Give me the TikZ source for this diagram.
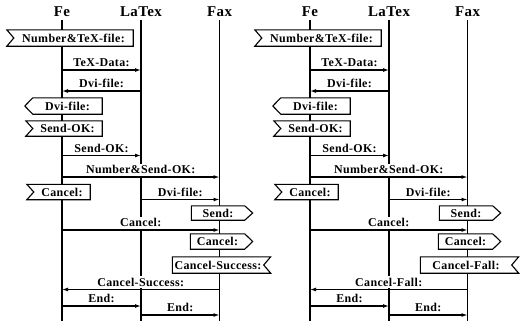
\documentclass[tikz,border=0pt]{standalone}
\usepackage{fontspec}
\setmainfont{Liberation Serif}[LetterSpace=3]
\usepackage{tikz}
\usetikzlibrary{arrows.meta,calc,positioning}

\begin{document}
\begin{tikzpicture}[x=1bp, y=-1bp, >={Latex[length=6bp,width=4bp]}, line join=miter,
    title/.style={font=\fontsize{15}{17}\selectfont\bfseries, inner sep=2bp},
    life/.style={line width=1.4bp},
    msg/.style={->, line width=1.1bp},
    msglbl/.style={font=\fontsize{12}{14}\selectfont\bfseries, above=0.8bp, fill=white,
      inner xsep=1bp, inner ysep=1.8bp, midway},
    sig/.style={font=\fontsize{12}{14}\selectfont\bfseries, fill=white, inner sep=0pt},
    frame/.style={line width=1.1bp}]
  \path[use as bounding box] (0,0) rectangle (524,323);

  \foreach \dx/\res in {62/Success, 310/Fall} {
  \begin{scope}[shift={(\dx,0)}]
    % instances and lifelines
    \node[title] (fe) at (0,12) {Fe};
    \node[title] (latex) at (79,12) {LaTex};
    \node[title] (fax) at (157.5,12) {Fax};
    \coordinate (bot) at (0,321);
    \foreach \p in {fe,latex,fax}
      \draw[life] ([yshift=-1bp]\p.south) -- (\p |- bot);

    % messages between instances
    \foreach \y/\a/\b/\txt in {70/fe/latex/{TeX-Data:}, 91/latex/fe/{Dvi-file:},
        155.5/fe/latex/{Send-OK:}, 177/fe/fax/{Number\&Send-OK:},
        199.5/latex/fax/{Dvi-file:}, 230/fe/fax/{Cancel:},
        289.5/fax/fe/{Cancel-\res:}, 306/fe/latex/{End:}, 315/latex/fax/{End:}}
      \draw[msg] (\a |- 0,\y) -- (\b |- 0,\y) node[msglbl] {\txt};

    % signal symbols
    \foreach \n/\x/\y/\w/\h/\txt in {ntf/11.5/38/119/16/{Number\&TeX-file:},
        dvo/5.5/106/69/16/{Dvi-file:}, sok/5.5/128.5/69/15/{Send-OK:},
        can/0/192/56/15/{Cancel:}, snd/156/213/53/14/{Send:},
        cno/155.5/241.5/54/15/{Cancel:}, cre/156/265/91/16/{Cancel-\res:}}
      \node[sig, minimum width=\w*1bp, minimum height=\h*1bp] (\n) at (\x,\y) {\txt};

    % input, notch on the left
    \foreach \n in {ntf,sok,can}
      \draw[frame] ([xshift=-7bp]\n.north west) -- (\n.north east) -- (\n.south east)
        -- ([xshift=-7bp]\n.south west) -- (\n.west) -- cycle;
    % input, notch on the right
    \draw[frame] (cre.north west) -- ([xshift=7bp]cre.north east) -- (cre.east)
      -- ([xshift=7bp]cre.south east) -- (cre.south west) -- cycle;
    % output, pointing left
    \draw[frame] (dvo.north west) -- (dvo.north east) -- (dvo.south east)
      -- (dvo.south west) -- ([xshift=-8bp]dvo.west) -- cycle;
    % output, pointing right
    \foreach \n in {snd,cno}
      \draw[frame] (\n.north west) -- (\n.north east) -- ([xshift=8bp]\n.east)
        -- (\n.south east) -- (\n.south west) -- cycle;
  \end{scope}
  }
\end{tikzpicture}
\end{document}
